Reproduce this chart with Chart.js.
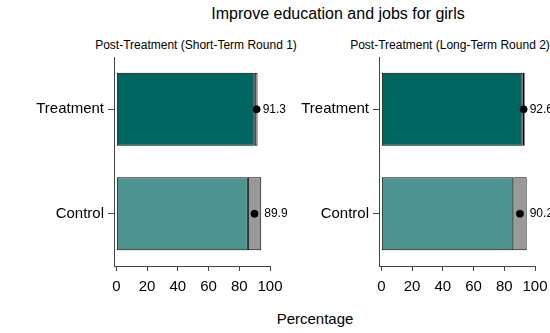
<!DOCTYPE html>
<html>
<head>
<meta charset="utf-8">
<script src="https://cdn.jsdelivr.net/npm/chart.js@4/dist/chart.umd.min.js"></script>
<style>
    html, body { margin: 0; padding: 0; background: #fff; }
    body { width: 550px; height: 333px; position: relative; overflow: hidden; font-family: "Liberation Sans", Arial, sans-serif; }
    canvas { position: absolute; top: 0; }
    .txt { position: absolute; width: 400px; text-align: center; color: #000; white-space: nowrap; }
</style>
</head>
<body>
<div class="txt" style="left:138px; top:5px; font-size:16px;">Improve education and jobs for girls</div>
<div class="txt" id="sub1" style="left:-4px; top:38px; font-size:12px;"></div>
<div class="txt" id="sub2" style="left:250px; top:38px; font-size:12px;"></div>
<div class="txt" style="left:115px; top:310px; font-size:15px;">Percentage</div>
<canvas id="panel1" width="300" height="333" style="left:0px"></canvas>
<canvas id="panel2" width="300" height="333" style="left:265px"></canvas>
<script>
// data
const categories = ['Treatment', 'Control'];
const panelTitles = ['Post-Treatment (Short-Term Round 1)', 'Post-Treatment (Long-Term Round 2)'];
const xTicks = [0, 20, 40, 60, 80, 100];

const shortMean = [91.3, 89.9];
const shortLow = [90.1, 85.6];
const shortHigh = [91.9, 94.3];

const longMean = [92.6, 90.2];
const longLow = [92.0, 85.9];
const longHigh = [93.3, 94.6];

const barColors = ['#006661', '#4e9592'];
const ciColor = '#999999';
const fontFamily = '"Liberation Sans", Arial, sans-serif';

document.getElementById('sub1').textContent = panelTitles[0];
document.getElementById('sub2').textContent = panelTitles[1];

// value labels to the right of the dot / CI bar
const valueLabels = {
    id: 'valueLabels',
    afterDatasetsDraw(chart) {
        const meta = chart.getDatasetMeta(2);
        const ci = chart.data.datasets[1].data;
        const xScale = chart.scales.x;
        const ctx = chart.ctx;
        ctx.save();
        ctx.font = '12px ' + fontFamily;
        ctx.fillStyle = '#000';
        ctx.textAlign = 'left';
        ctx.textBaseline = 'middle';
        meta.data.forEach((pt, i) => {
            const x = Math.max(pt.x + 6, xScale.getPixelForValue(ci[i][1]) + 3);
            ctx.fillText(chart.data.datasets[2].data[i].toFixed(1), x, pt.y);
        });
        ctx.restore();
    }
};

function makeChart(id, mean, low, high) {
    const ctx = document.getElementById(id).getContext('2d');
    return new Chart(ctx, {
        type: 'bar',
        data: {
            labels: categories,
            datasets: [
                {
                    data: low,
                    order: 2,
                    backgroundColor: barColors,
                    borderColor: '#000',
                    borderWidth: 1,
                    borderSkipped: false,
                    grouped: false,
                    categoryPercentage: 1,
                    barPercentage: 0.7
                },
                {
                    data: low.map((v, i) => [v, high[i]]),
                    order: 1,
                    backgroundColor: ciColor,
                    borderColor: '#000',
                    borderWidth: 1,
                    borderSkipped: false,
                    grouped: false,
                    categoryPercentage: 1,
                    barPercentage: 0.7
                },
                {
                    type: 'line',
                    indexAxis: 'y',
                    order: 0,
                    data: mean,
                    showLine: false,
                    pointRadius: 3.5,
                    pointBackgroundColor: '#000',
                    pointBorderColor: '#000'
                }
            ]
        },
        options: {
            indexAxis: 'y',
            responsive: false,
            animation: false,
            layout: { padding: { top: 57, right: 30, bottom: 0, left: 0 } },
            plugins: {
                legend: { display: false },
                title: { display: false },
                tooltip: { enabled: false }
            },
            scales: {
                x: {
                    type: 'linear',
                    min: -1.5,
                    max: 100,
                    afterBuildTicks: (s) => { s.ticks = xTicks.map(v => ({ value: v })); },
                    afterFit: (s) => { s.height = 67; s.paddingLeft = 0; s.paddingRight = 0; },
                    grid: { drawOnChartArea: false, drawTicks: true, tickLength: 5, color: '#444' },
                    border: { display: true, color: '#444', width: 1 },
                    ticks: { color: '#000', font: { size: 15, family: fontFamily }, padding: 7, maxRotation: 0 }
                },
                y: {
                    type: 'category',
                    offset: true,
                    afterFit: (s) => { s.width = 114; },
                    grid: { drawOnChartArea: false, drawTicks: true, tickLength: 6, color: '#444', offset: false },
                    border: { display: true, color: '#444', width: 1 },
                    ticks: { color: '#000', font: { size: 15, family: fontFamily }, padding: 4 }
                }
            }
        },
        plugins: [valueLabels]
    });
}

makeChart('panel1', shortMean, shortLow, shortHigh);
makeChart('panel2', longMean, longLow, longHigh);
</script>
</body>
</html>
